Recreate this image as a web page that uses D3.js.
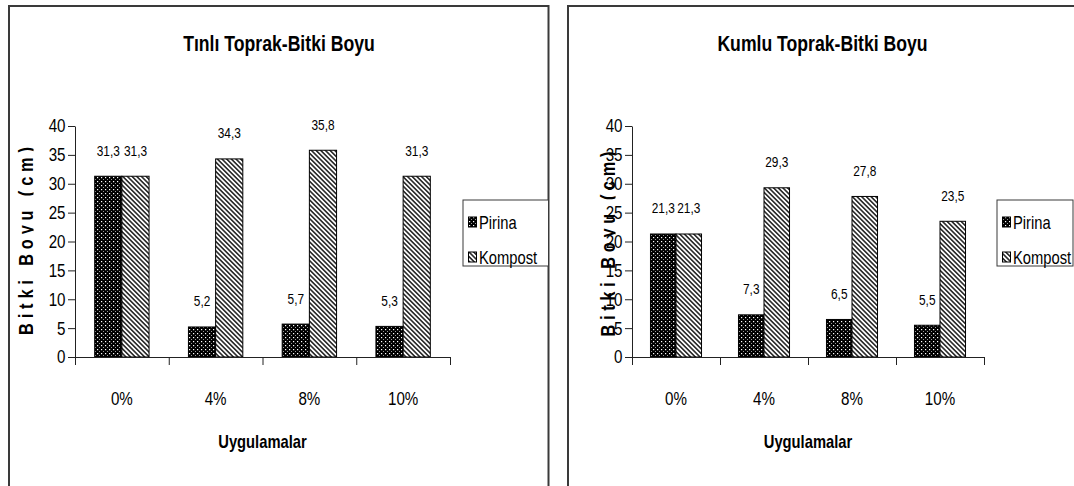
<!DOCTYPE html>
<html>
<head>
<meta charset="utf-8">
<script src="https://cdn.jsdelivr.net/npm/d3@7"></script>
<style>
  html, body { margin: 0; padding: 0; background: #fff; }
  svg { display: block; }
</style>
</head>
<body>
<svg id="chart" width="1074" height="486"></svg>
<script>
// Treatment levels (x categories) and the two amendment series
const categories = ["0%", "4%", "8%", "10%"];
const seriesNames = ["Pirina", "Kompost"];

// Plant height (cm) in loamy soil
const tinliPirina  = [31.3, 5.2, 5.7, 5.3];
const tinliKompost = [31.3, 34.3, 35.8, 31.3];

// Plant height (cm) in sandy soil
const kumluPirina  = [21.3, 7.3, 6.5, 5.5];
const kumluKompost = [21.3, 29.3, 27.8, 23.5];

const yTicks = [0, 5, 10, 15, 20, 25, 30, 35, 40];
const titles = ["Tınlı Toprak-Bitki Boyu", "Kumlu Toprak-Bitki Boyu"];
const yTitle = "Bitki Boyu (cm)";
const xTitle = "Uygulamalar";

// Narrow sans: regular sans compressed horizontally
const FONT = "'Liberation Sans',Arial,sans-serif";
const NARROW = 0.82;
const trFormat = d3.formatLocale({ decimal: ",", thousands: ".", grouping: [3], currency: ["", ""] }).format(".1f");

// Place a condensed text label
function label(parent, x, y, str, o = {}) {
  const g = parent.append("g")
    .attr("transform", `translate(${x},${y})${o.rotate ? " rotate(" + o.rotate + ")" : ""} scale(${NARROW},1)`);
  const t = g.append("text")
    .attr("text-anchor", o.anchor || "middle")
    .attr("font-family", FONT)
    .attr("font-size", o.size || 14)
    .attr("font-weight", o.weight || "normal")
    .attr("dy", o.dy || 0)
    .attr("fill", "#000")
    .text(str);
  if (o.length) t.attr("textLength", o.length / NARROW).attr("lengthAdjust", "spacing");
  return g;
}

const svg = d3.select("#chart");
svg.append("rect").attr("width", 1074).attr("height", 486).attr("fill", "#fff");

// Fill patterns: dotted black for Pirina, diagonal hatch for Kompost
const defs = svg.append("defs");
const dots = defs.append("pattern").attr("id", "pat-pirina")
  .attr("patternUnits", "userSpaceOnUse").attr("width", 4).attr("height", 4);
dots.append("rect").attr("width", 4).attr("height", 4).attr("fill", "#000");
dots.append("rect").attr("x", 1).attr("y", 1).attr("width", 1.2).attr("height", 1.2).attr("fill", "#fff");
dots.append("rect").attr("x", 3).attr("y", 3).attr("width", 1).attr("height", 1).attr("fill", "#9a9a9a");

const hatch = defs.append("pattern").attr("id", "pat-kompost")
  .attr("patternUnits", "userSpaceOnUse").attr("width", 3.3).attr("height", 3.3)
  .attr("patternTransform", "rotate(-45)");
hatch.append("rect").attr("width", 3.3).attr("height", 3.3).attr("fill", "#fff");
hatch.append("line").attr("x1", 1.65).attr("x2", 1.65).attr("y1", -1).attr("y2", 5)
  .attr("stroke", "#000").attr("stroke-width", 1.35);

const fills = ["url(#pat-pirina)", "url(#pat-kompost)"];

const panels = [
  {
    id: "tinli", title: titles[0], series: [tinliPirina, tinliKompost],
    panel: { x: 9, y: 6, w: 539.5, h: 520 },
    plot: { x0: 75, x1: 450, top: 126, bottom: 357 },
    titleX: 279, yTitleX: 33, yTitleY: 241, yTitleLen: 188,
    legend: { x: 463, y: 200, w: 85.5, h: 66 }
  },
  {
    id: "kumlu", title: titles[1], series: [kumluPirina, kumluKompost],
    panel: { x: 568, y: 6, w: 520, h: 520 },
    plot: { x0: 632, x1: 984, top: 126, bottom: 357 },
    titleX: 822.5, yTitleX: 615, yTitleY: 244, yTitleLen: 185,
    legend: { x: 997, y: 200, w: 76, h: 66 }
  }
];

panels.forEach(cfg => {
  const g = svg.append("g").attr("class", "panel-" + cfg.id);
  const p = cfg.plot;

  // chart frame
  g.append("rect")
    .attr("x", cfg.panel.x).attr("y", cfg.panel.y)
    .attr("width", cfg.panel.w).attr("height", cfg.panel.h)
    .attr("fill", "none").attr("stroke", "#3a3a3a").attr("stroke-width", 2);

  const y = d3.scaleLinear().domain([0, 40]).range([p.bottom, p.top]);
  const x = d3.scaleBand().domain(categories).range([p.x0, p.x1]).padding(0);
  const step = x.bandwidth();
  const xs = d3.scaleBand().domain(seriesNames).range([step * 0.21, step * 0.79]).padding(0);
  const edges = d3.scaleLinear().domain([0, categories.length]).range([p.x0, p.x1]);

  // title
  label(g, cfg.titleX, 50.5, cfg.title, { size: 21.5, weight: "bold" });

  // y-axis title, clipped at its baseline
  const clipId = "clip-ytitle-" + cfg.id;
  defs.append("clipPath").attr("id", clipId)
    .append("rect").attr("x", 0).attr("y", 0).attr("width", cfg.yTitleX + 0.5).attr("height", 486);
  const yt = g.append("g").attr("clip-path", "url(#" + clipId + ")");
  label(yt, cfg.yTitleX, cfg.yTitleY, yTitle, { size: 20, weight: "bold", rotate: -90, length: cfg.yTitleLen });

  // bars
  const bars = g.append("g");
  cfg.series.forEach((vals, si) => {
    bars.selectAll(null).data(vals).join("rect")
      .attr("x", (d, i) => x(categories[i]) + xs(seriesNames[si]))
      .attr("y", d => y(d))
      .attr("width", xs.bandwidth())
      .attr("height", d => y(0) - y(d))
      .attr("fill", fills[si])
      .attr("stroke", "#000").attr("stroke-width", 1);
  });

  // value labels
  const vl = g.append("g");
  cfg.series.forEach((vals, si) => {
    vals.forEach((d, i) => {
      label(vl, x(categories[i]) + xs(seriesNames[si]) + xs.bandwidth() / 2, y(d) - 20.5, trFormat(d), { size: 14.5 });
    });
  });

  // y axis
  const yAxis = g.append("g").attr("transform", `translate(${p.x0},0)`)
    .call(d3.axisLeft(y).tickValues(yTicks).tickSize(7).tickSizeOuter(0).tickFormat(""));
  yAxis.select(".domain").attr("stroke", "#222");
  yAxis.selectAll(".tick line").attr("stroke", "#222");
  const yl = g.append("g");
  yTicks.forEach(v => {
    label(yl, p.x0 - 9.5, y(v), String(v), { size: 18.5, anchor: "end", dy: "0.35em" });
  });

  // x axis with ticks between categories
  const xAxis = g.append("g").attr("transform", `translate(0,${p.bottom})`)
    .call(d3.axisBottom(edges).tickValues(d3.range(categories.length + 1)).tickSize(8).tickSizeOuter(0).tickFormat(""));
  xAxis.select(".domain").attr("stroke", "#222");
  xAxis.selectAll(".tick line").attr("stroke", "#222");

  // category labels
  const cl = g.append("g");
  categories.forEach(c => label(cl, x(c) + step / 2, 404.5, c, { size: 18.5 }));

  // x-axis title
  label(g, (p.x0 + p.x1) / 2, 448, xTitle, { size: 18, weight: "bold" });

  // legend
  const L = cfg.legend;
  const lg = g.append("g");
  lg.append("rect").attr("x", L.x).attr("y", L.y).attr("width", L.w).attr("height", L.h)
    .attr("fill", "#fff").attr("stroke", "#3a3a3a").attr("stroke-width", 1);
  const rowY = d3.scalePoint().domain(seriesNames).range([L.y + 22, L.y + 57]);
  seriesNames.forEach((name, si) => {
    lg.append("rect")
      .attr("x", L.x + 5.5).attr("y", rowY(name) - 5)
      .attr("width", 8).attr("height", 10)
      .attr("fill", fills[si]).attr("stroke", "#000").attr("stroke-width", 1);
    label(lg, L.x + 16, rowY(name) + 6.5, name, { size: 18, anchor: "start" });
  });
});
</script>
</body>
</html>
